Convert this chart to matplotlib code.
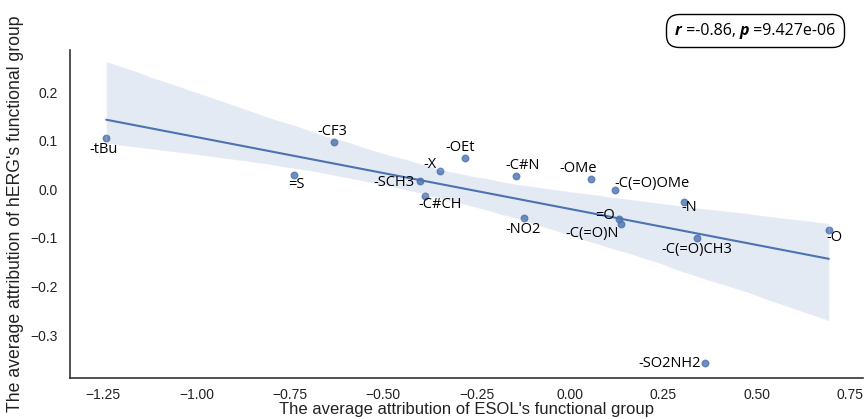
import numpy as np
import matplotlib
matplotlib.use('Agg')
import matplotlib.pyplot as plt
import seaborn as sns
from matplotlib.offsetbox import TextArea, HPacker, AnchoredOffsetbox

# functional groups and their average attributions
groups = ['-tBu', '=S', '-CF3', '-SCH3', '-C#CH', '-X', '-OEt', '-C#N', '-NO2',
          '-OMe', '-C(=O)OMe', '=O', '-C(=O)N', '-N', '-C(=O)CH3', '-O', '-SO2NH2']
esol_attr = [-1.242, -0.739, -0.632, -0.402, -0.388, -0.348, -0.281, -0.145, -0.123,
             0.056, 0.120, 0.131, 0.137, 0.305, 0.340, 0.693, 0.361]
herg_attr = [0.106, 0.030, 0.098, 0.017, -0.013, 0.038, 0.065, 0.028, -0.059,
             0.022, -0.001, -0.061, -0.071, -0.026, -0.100, -0.083, -0.358]
r_text = '-0.86'
p_text = '9.427e-06'

# label placement (pixel offsets from each point)
label_offsets = [(-3, -12), (2, -10), (-2, 10), (-26, -1), (15, -9), (-10, 6), (-5, 10.5),
                 (6.5, 10), (-1.5, -11), (-13, 10), (37, 6), (-14, 4), (-29.5, -10),
                 (5.5, -6), (-0.5, -12), (5.7, -7.4), (-35, 0)]

sns.set_theme(style='white')
plt.rcParams['font.family'] = ['Liberation Sans', 'DejaVu Sans']

fig = plt.figure(figsize=(8.64, 4.19), dpi=100)
ax = fig.add_axes([0.081, 0.098, 0.918, 0.783])

sns.regplot(x=np.array(esol_attr), y=np.array(herg_attr), ax=ax, seed=0,
            scatter_kws={'s': 22}, line_kws={'lw': 1.5})

for name, x, y, off in zip(groups, esol_attr, herg_attr, label_offsets):
    ax.annotate(name, (x, y), xytext=off, textcoords='offset pixels',
                ha='center', va='center', fontsize=10.5, color='black',
                family=['Open Sans', 'DejaVu Sans'])

ax.set_xlim(-1.339, 0.785)
ax.set_ylim(-0.388, 0.287)
ax.set_xticks([-1.25, -1.0, -0.75, -0.5, -0.25, 0.0, 0.25, 0.5, 0.75])
ax.set_yticks([-0.3, -0.2, -0.1, 0.0, 0.1, 0.2])
ax.tick_params(labelsize=10, colors='#222222', pad=3)
ax.tick_params(axis='x', pad=1)
ax.set_xlabel("The average attribution of ESOL's functional group", fontsize=12,
              labelpad=0.5, color='#222222')
ax.set_ylabel("The average attribution of hERG's functional group", fontsize=12.7,
              labelpad=4, color='#222222')
sns.despine(ax=ax)
for s in ['left', 'bottom']:
    ax.spines[s].set_color('#333333')
    ax.spines[s].set_linewidth(1.2)

# r / p box
tp = dict(fontsize=11.5, family=['Open Sans', 'DejaVu Sans'], color='black')
tpb = dict(tp, weight='bold', style='italic')
parts = [TextArea('r', textprops=tpb), TextArea(' =' + r_text + ', ', textprops=tp),
         TextArea('p', textprops=tpb), TextArea(' =' + p_text, textprops=tp)]
box = AnchoredOffsetbox(loc='upper right', child=HPacker(children=parts, pad=0, sep=0),
                        bbox_to_anchor=(0.975, 0.962), bbox_transform=fig.transFigure,
                        frameon=True, pad=0.45, borderpad=0)
box.patch.set_boxstyle('round,pad=0.1,rounding_size=0.8')
box.patch.set_edgecolor('black')
fig.add_artist(box)

fig.savefig('out.png', dpi=100)
